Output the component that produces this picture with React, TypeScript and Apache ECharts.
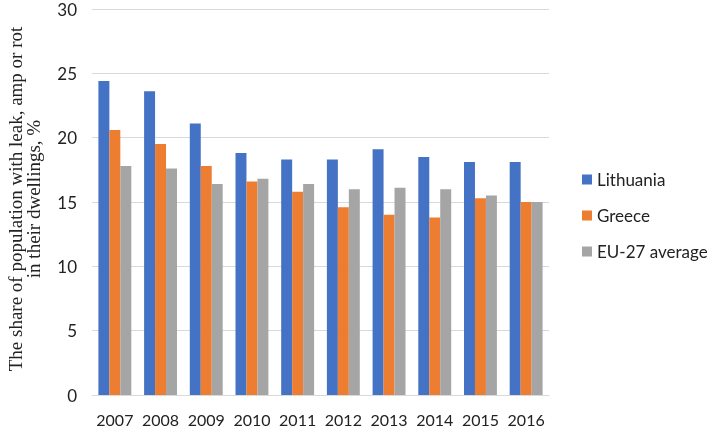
import React, { useEffect, useRef } from "react";
import * as echarts from "echarts";

const years = ["2007", "2008", "2009", "2010", "2011", "2012", "2013", "2014", "2015", "2016"];
const lithuania = [24.4, 23.6, 21.1, 18.8, 18.3, 18.3, 19.1, 18.5, 18.1, 18.1];
const greece = [20.6, 19.5, 17.8, 16.6, 15.8, 14.6, 14.0, 13.8, 15.3, 15.0];
const eu27 = [17.8, 17.6, 16.4, 16.8, 16.4, 16.0, 16.1, 16.0, 15.5, 15.0];
const seriesNames = ["Lithuania", "Greece", "EU-27 average"];
const colors = ["#4472C4", "#ED7D31", "#A5A5A5"];
const yTitle = "The share of population with leak, amp or rot\nin their dwellings, %";

export default function App() {
  const ref = useRef<HTMLDivElement>(null);
  useEffect(() => {
    if (!ref.current) return;
    const chart = echarts.init(ref.current, undefined, { renderer: "svg" });
    const font = "Lato, sans-serif";
    chart.setOption({
      animation: false,
      color: colors,
      grid: { left: 92, right: 159, top: 9, bottom: 35 },
      legend: {
        orient: "vertical",
        left: 577,
        top: 166,
        itemWidth: 10,
        itemHeight: 10,
        itemGap: 19,
        icon: "rect",
        textStyle: { fontFamily: font, fontSize: 17, color: "#222" },
        data: seriesNames,
      },
      xAxis: {
        type: "category",
        data: years,
        axisLine: { lineStyle: { color: "#d9d9d9" } },
        axisTick: { show: false },
        axisLabel: { fontFamily: font, fontSize: 16, color: "#222", margin: 16, interval: 0 },
      },
      yAxis: {
        type: "value",
        min: 0,
        max: 30,
        interval: 5,
        axisLine: { show: false },
        axisTick: { show: false },
        splitLine: { lineStyle: { color: "#d9d9d9" } },
        axisLabel: { fontFamily: font, fontSize: 17, color: "#222", margin: 15 },
      },
      graphic: [
        {
          type: "text",
          x: 24,
          y: 199,
          rotation: Math.PI / 2,
          style: {
            text: yTitle,
            font: "19px 'Liberation Serif', serif",
            fill: "#222",
            align: "center",
            verticalAlign: "middle",
            lineHeight: 18,
          },
        },
      ],
      series: [
        { name: seriesNames[0], type: "bar", data: lithuania, barGap: "0%", barCategoryGap: "28%" },
        { name: seriesNames[1], type: "bar", data: greece, barGap: "0%", barCategoryGap: "28%" },
        { name: seriesNames[2], type: "bar", data: eu27, barGap: "0%", barCategoryGap: "28%" },
      ],
    });
    return () => chart.dispose();
  }, []);
  return <div ref={ref} style={{ position: "fixed", left: 0, top: 0, width: 708, height: 430 }} />;
}
